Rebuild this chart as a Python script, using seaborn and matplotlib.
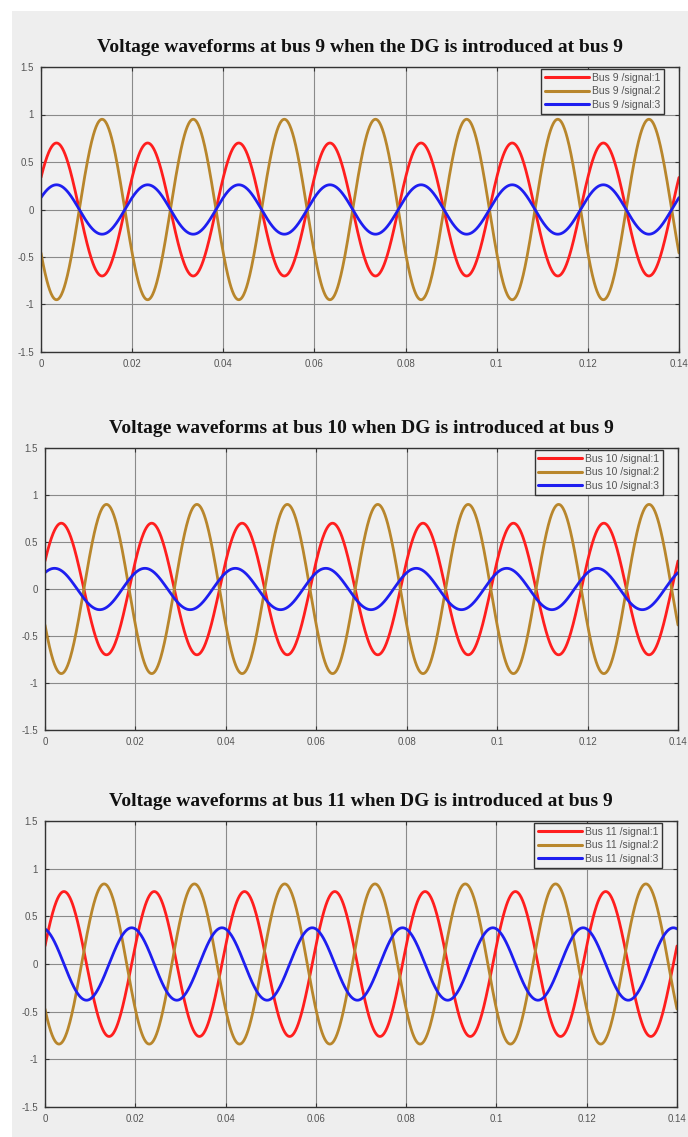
import matplotlib.pyplot as plt
import numpy as np
import pandas as pd
import seaborn as sns
from matplotlib.patches import Rectangle

# waveform parameters (50 Hz)
freq = 50.0
t_end = 0.14
buses = ["9", "10", "11"]
titles = [
    "Voltage waveforms at bus 9 when the DG is introduced at bus 9",
    "Voltage waveforms at bus 10 when DG is introduced at bus 9",
    "Voltage waveforms at bus 11 when DG is introduced at bus 9",
]
signals = ["signal:1", "signal:2", "signal:3"]
# peak amplitude of each signal, per bus
amp_bus9 = [0.70, 0.95, 0.26]
amp_bus10 = [0.70, 0.90, 0.22]
amp_bus11 = [0.76, 0.84, 0.38]
# time of first positive peak (s), per bus
peak_bus9 = [0.0034, 0.0134, 0.0034]
peak_bus10 = [0.0036, 0.0136, 0.0021]
peak_bus11 = [0.0042, 0.0131, 0.0192]

x_ticks = [0, 0.02, 0.04, 0.06, 0.08, 0.1, 0.12, 0.14]
x_ticklabels = ["0", "0.02", "0.04", "0.06", "0.08", "0.1", "0.12", "0.14"]
y_ticks = [-1.5, -1, -0.5, 0, 0.5, 1, 1.5]
y_ticklabels = ["-1.5", "-1", "-0.5", "0", "0.5", "1", "1.5"]

colors = ["#ff1e1e", "#b8862c", "#1e1ef0"]

amps = [amp_bus9, amp_bus10, amp_bus11]
peaks = [peak_bus9, peak_bus10, peak_bus11]

t = np.linspace(0, t_end, 1401)

sns.set_theme(style="white")
plt.rcParams["font.family"] = ["Liberation Sans", "DejaVu Sans"]
fig = plt.figure(figsize=(6.88, 11.37), dpi=100)
fig.patch.set_facecolor("white")
W, H = 688, 1137
fig.patches.append(Rectangle((12 / W, 0), 1, 1 - 11 / H, transform=fig.transFigure,
                             facecolor="#eeeeee", edgecolor="none", zorder=-10))

# axes boxes in pixels: left, right, top, bottom
boxes = [(41, 679, 67, 352), (45, 678, 448, 730), (45, 677, 821, 1107)]

for i, bus in enumerate(buses):
    l, r, tp, b = boxes[i]
    ax = fig.add_axes([l / W, 1 - b / H, (r - l) / W, (b - tp) / H])
    ax.set_facecolor("#f0f0f0")
    frames = []
    for j, sig in enumerate(signals):
        v = amps[i][j] * np.cos(2 * np.pi * freq * (t - peaks[i][j]))
        frames.append(pd.DataFrame({"t": t, "v": v, "label": f"Bus {bus} /{sig}"}))
    df = pd.concat(frames)
    sns.lineplot(data=df, x="t", y="v", hue="label", palette=colors,
                 estimator=None, linewidth=2.0, ax=ax)
    ax.set_xlim(0, t_end)
    ax.set_ylim(-1.5, 1.5)
    ax.set_xticks(x_ticks)
    ax.set_xticklabels(x_ticklabels)
    ax.set_yticks(y_ticks)
    ax.set_yticklabels(y_ticklabels)
    ax.set_xlabel("")
    ax.set_ylabel("")
    ax.grid(True, color="#8a8a8a", linewidth=0.8)
    ax.tick_params(axis="both", which="both", direction="in", length=3, width=0.8,
                   labelsize=7, labelcolor="#555555", color="#333333",
                   top=True, right=True, bottom=True, left=True, pad=5)
    for s in ax.spines.values():
        s.set_color("#333333")
        s.set_linewidth(1.0)
    ax.set_title(titles[i], family="Liberation Serif", fontweight="bold",
                 fontsize=14, color="#111111", pad=11)
    leg = ax.legend(loc="upper right",
                    bbox_to_anchor=(1 - 15 / (r - l), 1 - 2 / (b - tp)),
                    fontsize=7.5, handlelength=4.2,
                    frameon=True, fancybox=False, borderaxespad=0,
                    labelspacing=0.35, handletextpad=0.3, borderpad=0.35)
    leg.get_frame().set_edgecolor("#333333")
    leg.get_frame().set_facecolor("#f0f0f0")
    leg.get_frame().set_alpha(1)
    for line in leg.get_lines():
        line.set_linewidth(2.2)
    for txt in leg.get_texts():
        txt.set_color("#555555")

fig.savefig("out.png", dpi=100, facecolor=fig.get_facecolor())
